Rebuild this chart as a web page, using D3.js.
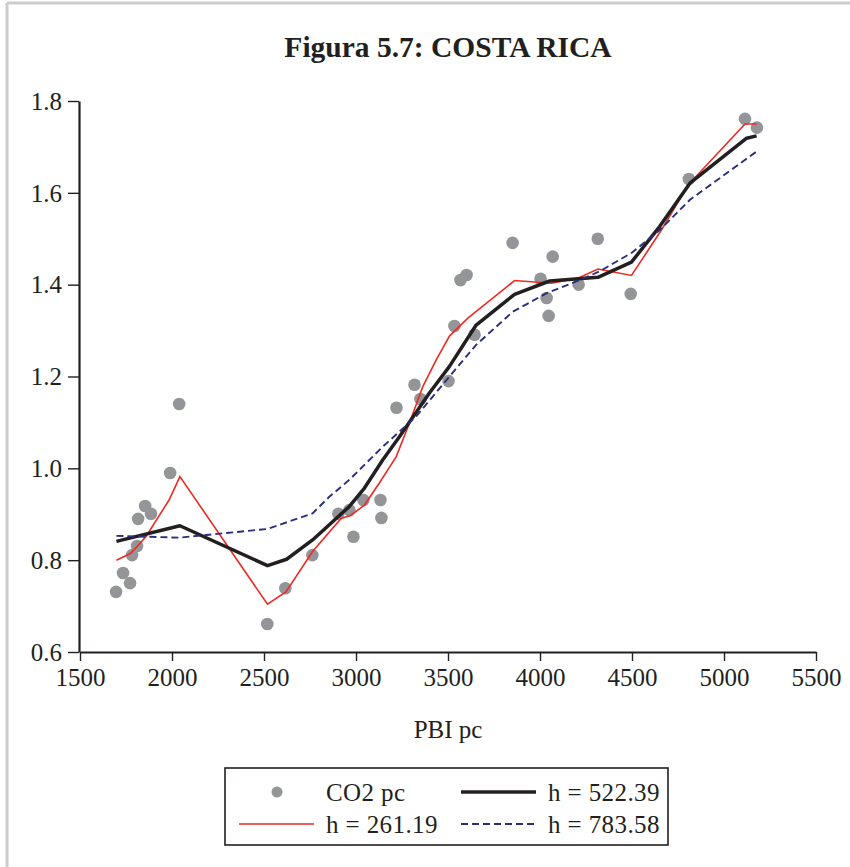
<!DOCTYPE html>
<html>
<head>
<meta charset="utf-8">
<script src="https://cdn.jsdelivr.net/npm/d3@7"></script>
<style>
  html, body { margin: 0; padding: 0; background: #fff; }
  svg { display: block; }
  text { font-family: "Liberation Serif", "Times New Roman", serif; fill: #231f20; }
</style>
</head>
<body>
<svg id="chart" width="850" height="867"></svg>
<script>
// ---- data ----
const pbi = [1696,1734,1772,1783,1810,1816,1854,1886,1990,2039,2518,2616,2763,2904,2964,2986,3040,3133,3138,3220,3318,3350,3503,3535,3568,3601,3644,3851,4003,4036,4047,4069,4210,4314,4493,4809,5114,5179];
const co2 = [0.731,0.772,0.750,0.811,0.831,0.890,0.918,0.901,0.990,1.140,0.661,0.739,0.811,0.901,0.909,0.851,0.931,0.931,0.892,1.132,1.182,1.151,1.190,1.310,1.410,1.421,1.291,1.491,1.413,1.371,1.332,1.461,1.400,1.500,1.380,1.630,1.761,1.742];

const h261x = [1698,1776,1858,1984,2043,2519,2619,2764,2919,2973,3046,3127,3218,3290,3363,3436,3508,3608,3862,4062,4206,4315,4497,4660,4805,5114,5177];
const h261y = [0.800,0.815,0.851,0.931,0.982,0.704,0.731,0.819,0.891,0.898,0.920,0.968,1.025,1.098,1.178,1.236,1.288,1.327,1.409,1.403,1.414,1.434,1.420,1.519,1.617,1.750,1.750];

const h522x = [1698,2043,2519,2623,2764,2964,3046,3145,3236,3399,3508,3653,3862,4052,4315,4497,4651,4815,5123,5177];
const h522y = [0.841,0.875,0.788,0.802,0.844,0.917,0.957,1.018,1.069,1.164,1.222,1.312,1.379,1.408,1.416,1.449,1.527,1.621,1.719,1.724];

const h783x = [1698,2039,2519,2764,2855,2964,3145,3327,3508,3653,3852,4034,4216,4324,4497,4651,4815,5177];
const h783y = [0.853,0.849,0.868,0.902,0.938,0.975,1.047,1.113,1.200,1.269,1.341,1.381,1.410,1.429,1.469,1.519,1.585,1.690];

const xTicks = [1500,2000,2500,3000,3500,4000,4500,5000,5500];
const yTicks = [0.6,0.8,1.0,1.2,1.4,1.6,1.8];

const title = "Figura 5.7: COSTA RICA";
const xLabel = "PBI pc";
const legendLabels = ["CO2 pc", "h = 522.39", "h = 261.19", "h = 783.58"];

// ---- drawing ----
const svg = d3.select("#chart");
const ink = "#231f20";

// page frame (left and top grey edges)
svg.append("line").attr("x1", 7).attr("y1", 3).attr("x2", 7).attr("y2", 867)
  .attr("stroke", "#cccccc").attr("stroke-width", 3);
svg.append("line").attr("x1", 7).attr("y1", 3).attr("x2", 850).attr("y2", 3)
  .attr("stroke", "#cccccc").attr("stroke-width", 3);

const x = d3.scaleLinear().domain([1500, 5500]).range([80, 816]);
const y = d3.scaleLinear().domain([0.6, 1.8]).range([652, 101]);

svg.append("text").attr("x", 448).attr("y", 57).attr("text-anchor", "middle")
  .attr("font-size", 29.5).attr("font-weight", "bold").text(title);

// axes
const xAxis = svg.append("g").attr("transform", "translate(0,652)")
  .call(d3.axisBottom(x).tickValues(xTicks).tickFormat(d3.format("d")).tickSizeInner(9).tickSizeOuter(0).tickPadding(5));
const yAxis = svg.append("g").attr("transform", "translate(79,0)")
  .call(d3.axisLeft(y).tickValues(yTicks).tickFormat(d3.format(".1f")).tickSizeInner(11).tickSizeOuter(0).tickPadding(6));
[xAxis, yAxis].forEach(a => {
  a.select(".domain").attr("stroke", ink).attr("stroke-width", 2.2);
  a.selectAll(".tick line").attr("stroke", ink).attr("stroke-width", 1.4);
  a.selectAll(".tick text").attr("font-size", 25).attr("fill", ink)
    .style("font-family", "'Liberation Serif', serif");
});
xAxis.selectAll(".tick text").attr("dy", "0.8em");
yAxis.selectAll(".tick text").attr("dy", "0.33em");

svg.append("text").attr("x", 448).attr("y", 738).attr("text-anchor", "middle")
  .attr("font-size", 25).text(xLabel);

// points
svg.append("g").selectAll("circle").data(pbi.map((v, i) => [v, co2[i]])).join("circle")
  .attr("cx", d => x(d[0])).attr("cy", d => y(d[1])).attr("r", 6.3).attr("fill", "#939598");

const line = d3.line().x(d => x(d[0])).y(d => y(d[1]));
const red = "#ee2a24", navy = "#2b2e7a";

svg.append("path").datum(h261x.map((v, i) => [v, h261y[i]])).attr("d", line)
  .attr("fill", "none").attr("stroke", red).attr("stroke-width", 1.6);
svg.append("path").datum(h522x.map((v, i) => [v, h522y[i]])).attr("d", line)
  .attr("fill", "none").attr("stroke", ink).attr("stroke-width", 3.5).attr("stroke-linejoin", "round");
svg.append("path").datum(h783x.map((v, i) => [v, h783y[i]])).attr("d", line)
  .attr("fill", "none").attr("stroke", navy).attr("stroke-width", 1.9).attr("stroke-dasharray", "7,4");

// legend
const lg = svg.append("g");
lg.append("rect").attr("x", 225).attr("y", 768).attr("width", 443).attr("height", 77)
  .attr("fill", "#fff").attr("stroke", ink).attr("stroke-width", 1.6);
lg.append("circle").attr("cx", 277).attr("cy", 792).attr("r", 5.5).attr("fill", "#939598");
lg.append("line").attr("x1", 461).attr("x2", 536).attr("y1", 792).attr("y2", 792)
  .attr("stroke", ink).attr("stroke-width", 3.5);
lg.append("line").attr("x1", 239).attr("x2", 314).attr("y1", 824).attr("y2", 824)
  .attr("stroke", red).attr("stroke-width", 1.6);
lg.append("line").attr("x1", 461).attr("x2", 536).attr("y1", 824).attr("y2", 824)
  .attr("stroke", navy).attr("stroke-width", 1.9).attr("stroke-dasharray", "7,4");
const lpos = [[326, 792], [548, 792], [326, 824], [548, 824]];
legendLabels.forEach((t, i) => {
  lg.append("text").attr("x", lpos[i][0]).attr("y", lpos[i][1]).attr("dy", "0.35em")
    .attr("font-size", 25).attr("letter-spacing", 0.4).text(t);
});
</script>
</body>
</html>
